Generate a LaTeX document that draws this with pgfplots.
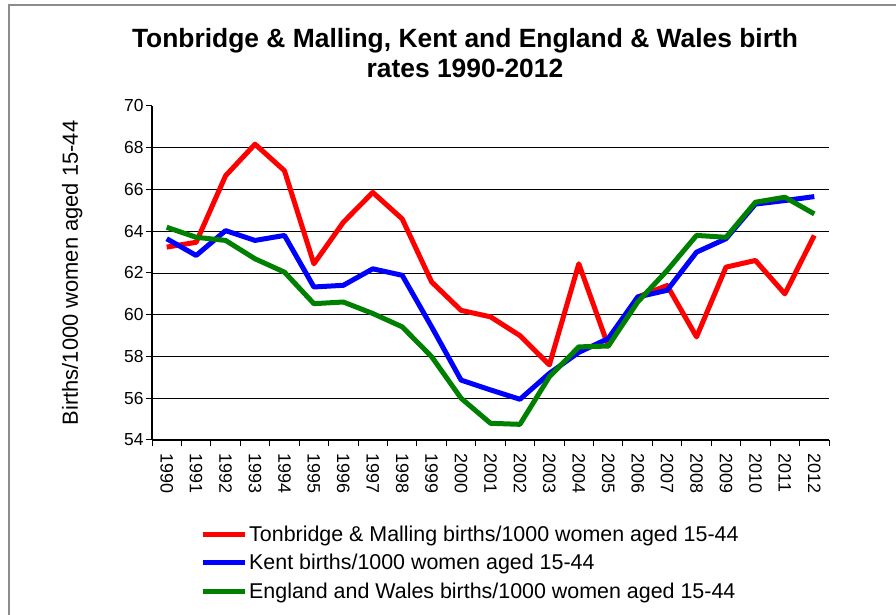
\documentclass[border=0pt]{standalone}
\usepackage{pgfplots}
\pgfplotsset{compat=1.18}
\usepackage{fontspec}
\setmainfont{Liberation Sans}
\definecolor{cred}{RGB}{255,0,0}
\definecolor{cblue}{RGB}{0,0,255}
\definecolor{cgreen}{RGB}{0,128,0}
\begin{document}
\begin{tikzpicture}[x=1bp,y=1bp]
\useasboundingbox (0,0) rectangle (896,615);
\draw[gray!90, line width=2bp] (9,0) -- (9,609.5) -- (896,609.5);
\node[font=\fontsize{26.5}{30}\selectfont\bfseries, align=center] at (465,562) {Tonbridge \& Malling, Kent and England \& Wales birth\\rates 1990-2012};
\begin{axis}[
  at={(152bp,175bp)}, anchor=south west,
  scale only axis, width=677bp, height=334bp,
  xmin=-0.5, xmax=22.5, ymin=54, ymax=70,
  axis lines*=left,
  axis line style={line width=1.5bp, black},
  xtick={0,...,22},
  xticklabels={1990,1991,1992,1993,1994,1995,1996,1997,1998,1999,2000,2001,2002,2003,2004,2005,2006,2007,2008,2009,2010,2011,2012},
  minor xtick={-0.5,0.5,...,22.5},
  x tick label style={rotate=-90, anchor=west, font=\fontsize{18}{20}\selectfont, xshift=4bp},
  xtick style={draw=none},
  minor x tick style={draw=black, line width=1bp},
  minor tick length=6bp,
  ytick={54,56,...,68},
  extra y ticks={70},
  extra y tick style={grid=none},
  y tick label style={font=\fontsize{17.5}{20}\selectfont, xshift=1bp},
  ytick style={black, line width=1bp},
  major tick length=6bp,
  tick align=outside,
  ymajorgrids,
  grid style={black, line width=0.8bp},
  /pgf/number format/assume math mode=true,
  ylabel={Births/1000 women aged 15-44},
  ylabel style={font=\fontsize{22}{24}\selectfont, at={(axis description cs:-0.118,0.5)}, anchor=center},
  legend style={at={(axis description cs:0.0709,-0.25)}, anchor=north west, draw=none, font=\fontsize{21.5}{24}\selectfont, row sep=7.5bp, inner sep=0pt},
  legend cell align=left,
  legend image code/.code={\draw[#1] (0bp,0bp) -- (42bp,0bp);},
  every axis plot/.append style={line width=5bp, line join=round},
  clip=false,
]
\addplot[forget plot, black, line width=1.5bp] coordinates {(-0.5,66) (22.5,66)};
\addplot[forget plot, black, line width=1.5bp] coordinates {(-0.5,68) (22.5,68)};
\addplot[cred] coordinates {(0,63.24) (1,63.47) (2,66.66) (3,68.17) (4,66.9) (5,62.44) (6,64.43) (7,65.86) (8,64.59) (9,61.57) (10,60.21) (11,59.9) (12,59.0) (13,57.6) (14,62.44) (15,58.5) (16,60.85) (17,61.4) (18,58.94) (19,62.28) (20,62.6) (21,61.0) (22,63.8)};
\addlegendentry{Tonbridge \& Malling births/1000 women aged 15-44}
\addplot[cblue] coordinates {(0,63.64) (1,62.84) (2,64.03) (3,63.56) (4,63.8) (5,61.33) (6,61.41) (7,62.2) (8,61.89) (9,59.42) (10,56.87) (11,56.4) (12,55.95) (13,57.19) (14,58.2) (15,58.86) (16,60.85) (17,61.17) (18,63.0) (19,63.64) (20,65.3) (21,65.47) (22,65.66)};
\addlegendentry{Kent births/1000 women aged 15-44}
\addplot[cgreen] coordinates {(0,64.19) (1,63.71) (2,63.56) (3,62.68) (4,62.04) (5,60.53) (6,60.61) (7,60.06) (8,59.42) (9,57.99) (10,56.0) (11,54.8) (12,54.75) (13,57.03) (14,58.46) (15,58.5) (16,60.61) (17,62.12) (18,63.8) (19,63.71) (20,65.39) (21,65.63) (22,64.83)};
\addlegendentry{England and Wales births/1000 women aged 15-44}
\end{axis}
\end{tikzpicture}
\end{document}
